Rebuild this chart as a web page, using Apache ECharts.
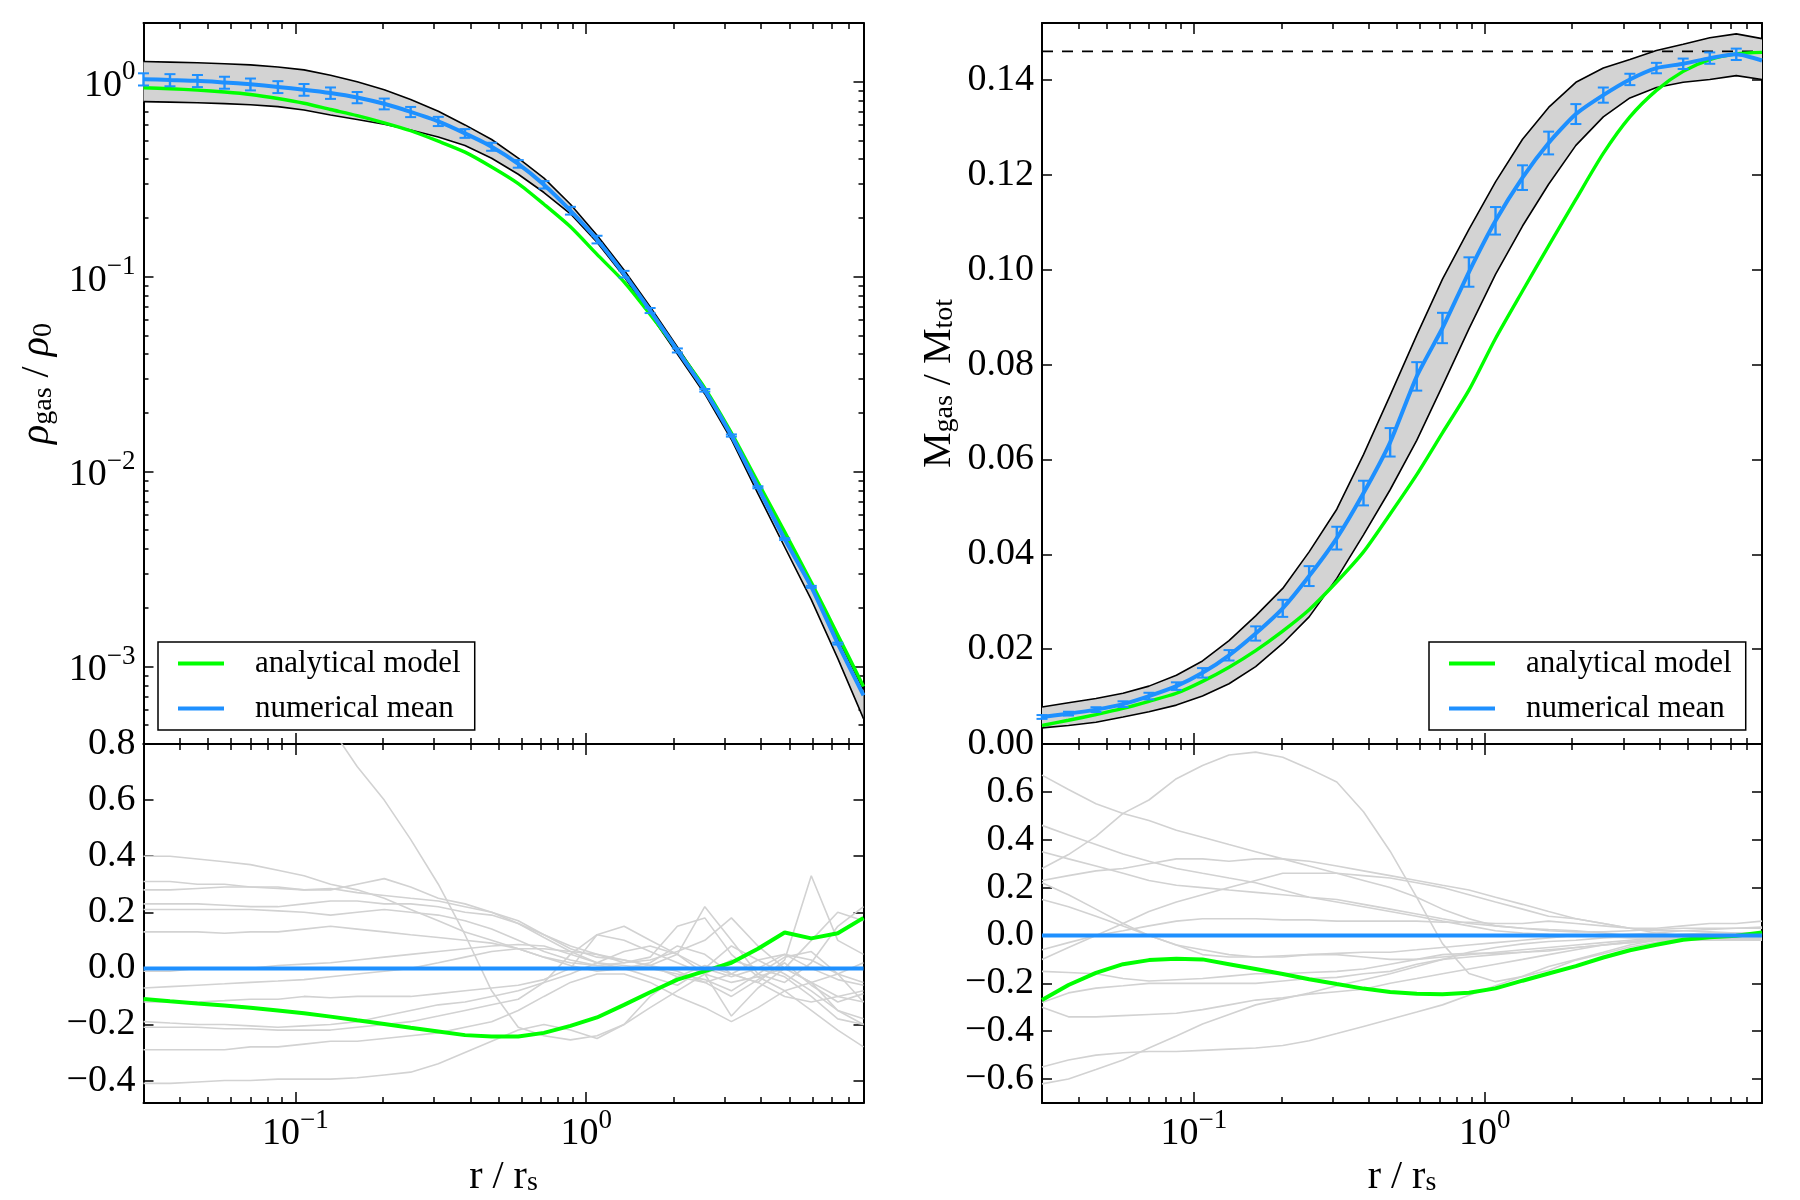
<!DOCTYPE html>
<html>
<head>
<meta charset="utf-8">
<title>Gas density and gas mass fraction profiles</title>
<script src="https://cdn.jsdelivr.net/npm/echarts@6/dist/echarts.min.js"></script>
<style>
  html, body { margin: 0; padding: 0; background: #fff; }
  #main { width: 1800px; height: 1200px; }
</style>
</head>
<body>
<div id="main"></div>
<script>
// r / r_s sample points (error bars sit on all but the last one)
const R = [0.03, 0.037, 0.046, 0.057, 0.07, 0.087, 0.107, 0.132, 0.163, 0.202, 0.249, 0.31, 0.383, 0.473,
  0.584, 0.716, 0.883, 1.09, 1.35, 1.66, 2.06, 2.56, 3.16, 3.9, 4.82, 5.95, 7.34, 9.0];
const X_MIN = 0.03, X_MAX = 9;

// top left: rho_gas / rho_0
const RHO_MODEL = [0.93, 0.92, 0.905, 0.885, 0.86, 0.82, 0.775, 0.72, 0.67, 0.615, 0.56, 0.495, 0.435, 0.365,
  0.30, 0.235, 0.18, 0.13, 0.094, 0.064, 0.042, 0.0268, 0.0158, 0.0088, 0.0049, 0.0027, 0.00145, 0.00079];
const RHO_MEAN = [1.03, 1.02, 1.01, 0.99, 0.97, 0.94, 0.91, 0.875, 0.83, 0.77, 0.70, 0.626, 0.543, 0.464,
  0.379, 0.296, 0.218, 0.155, 0.103, 0.067, 0.0418, 0.0261, 0.0153, 0.0083, 0.0045, 0.00256, 0.00131, 0.00071];
const RHO_ERR = [0.074, 0.073, 0.072, 0.070, 0.068, 0.066, 0.063, 0.059, 0.055, 0.049, 0.042, 0.034, 0.028, 0.022,
  0.017, 0.013, 0.010, 0.007, 0.004, 0.002, 0.001, 0.0004, 0.0002, 0.0001, 0.00005, 0.00003, 0.000015];
const RHO_HI = [1.27, 1.26, 1.25, 1.235, 1.22, 1.19, 1.15, 1.08, 1.0, 0.91, 0.81, 0.705, 0.60, 0.505,
  0.405, 0.32, 0.235, 0.163, 0.108, 0.07, 0.0435, 0.027, 0.0158, 0.0087, 0.0048, 0.0027, 0.0014, 0.00076];
const RHO_LO = [0.79, 0.785, 0.78, 0.772, 0.762, 0.745, 0.715, 0.675, 0.64, 0.605, 0.565, 0.52, 0.47, 0.405,
  0.335, 0.27, 0.21, 0.150, 0.100, 0.064, 0.040, 0.025, 0.0146, 0.0077, 0.0041, 0.0022, 0.0011, 0.00054];

// top right: M_gas / M_tot
const MGAS_MODEL = [0.0039, 0.0050, 0.0062, 0.0075, 0.0090, 0.0107, 0.0132, 0.0162, 0.0197, 0.0238, 0.0283, 0.0342, 0.0405, 0.0485,
  0.0568, 0.0656, 0.0746, 0.0855, 0.0955, 0.105, 0.1148, 0.1245, 0.1322, 0.1378, 0.1418, 0.1443, 0.1455, 0.1458];
const MGAS_MEAN = [0.0057, 0.0064, 0.00725, 0.0084, 0.0101, 0.0122, 0.0150, 0.0187, 0.0233, 0.0286, 0.0354, 0.0434, 0.0529, 0.0636,
  0.0775, 0.0877, 0.0995, 0.1103, 0.1194, 0.1267, 0.1328, 0.1368, 0.1401, 0.1425, 0.1434, 0.1446, 0.1454, 0.1441];
const MGAS_ERR = [0.0004, 0.0004, 0.0005, 0.0006, 0.0007, 0.0008, 0.001, 0.0011, 0.0015, 0.0018, 0.0021, 0.0024, 0.0026, 0.003,
  0.003, 0.0032, 0.0031, 0.0029, 0.0026, 0.0024, 0.0021, 0.0016, 0.0012, 0.0011, 0.0011, 0.0012, 0.0012];
const MGAS_HI = [0.0078, 0.0087, 0.0096, 0.0107, 0.0122, 0.0145, 0.0175, 0.0218, 0.027, 0.0328, 0.0405, 0.0495, 0.061, 0.0735,
  0.0862, 0.0980, 0.1085, 0.1185, 0.1275, 0.1342, 0.1395, 0.1425, 0.1443, 0.1462, 0.1475, 0.1489, 0.1497, 0.1487];
const MGAS_LO = [0.0034, 0.0039, 0.0046, 0.0057, 0.0068, 0.0082, 0.0101, 0.0127, 0.0163, 0.0212, 0.0268, 0.0349, 0.0441, 0.0536,
  0.0640, 0.0755, 0.0875, 0.0990, 0.1092, 0.1180, 0.1262, 0.1322, 0.1362, 0.1384, 0.1395, 0.1401, 0.1409, 0.1401];
const F_BARYON = 0.146;

// bottom panels: relative deviation from the numerical mean
const RES_MEAN_X = [0.03, 9];
const RES_MEAN = [0, 0];
const RHO_RES_MODEL = [-0.109, -0.117, -0.125, -0.132, -0.14, -0.15, -0.16, -0.172, -0.185, -0.198, -0.212, -0.225, -0.238, -0.243,
  -0.243, -0.23, -0.205, -0.175, -0.13, -0.085, -0.04, -0.01, 0.02, 0.07, 0.128, 0.107, 0.125, 0.18];
const MGAS_RES_MODEL = [-0.27, -0.207, -0.156, -0.12, -0.103, -0.097, -0.1, -0.12, -0.14, -0.161, -0.183, -0.203, -0.222, -0.236,
  -0.244, -0.246, -0.239, -0.221, -0.189, -0.159, -0.128, -0.092, -0.062, -0.039, -0.018, -0.007, -0.001, 0.012];

// single haloes
const RHO_RES_HALOS = [
  [0.40, 0.40, 0.39, 0.38, 0.37, 0.35, 0.33, 0.30, 0.28, 0.25, 0.21, 0.17, 0.13, 0.10, 0.07, 0.04, 0.02, 0.01, 0.00, 0.01, -0.03, -0.05, -0.02, 0.03, 0.05, 0.00, -0.04, -0.06],
  [0.31, 0.31, 0.30, 0.30, 0.29, 0.29, 0.28, 0.28, 0.30, 0.32, 0.29, 0.25, 0.23, 0.20, 0.17, 0.12, 0.08, 0.05, 0.02, 0.03, 0.06, 0.10, 0.18, 0.08, 0.00, -0.05, -0.10, -0.12],
  [0.28, 0.28, 0.285, 0.29, 0.29, 0.285, 0.28, 0.285, 0.27, 0.26, 0.25, 0.24, 0.22, 0.20, 0.16, 0.11, 0.06, 0.02, 0.00, -0.03, -0.06, 0.00, 0.08, 0.03, -0.02, -0.08, -0.15, -0.18],
  [0.23, 0.23, 0.23, 0.225, 0.22, 0.22, 0.23, 0.24, 0.24, 0.23, 0.23, 0.22, 0.20, 0.19, 0.16, 0.12, 0.07, 0.04, 0.03, 0.01, 0.05, 0.22, 0.10, -0.02, -0.05, 0.02, 0.15, 0.22],
  [0.21, 0.21, 0.21, 0.21, 0.21, 0.205, 0.20, 0.19, 0.20, 0.21, 0.20, 0.19, 0.17, 0.14, 0.10, 0.06, 0.03, 0.01, 0.02, 0.04, 0.15, 0.18, 0.05, -0.03, 0.00, 0.10, 0.20, 0.17],
  [0.13, 0.13, 0.13, 0.125, 0.13, 0.13, 0.14, 0.15, 0.14, 0.13, 0.12, 0.11, 0.10, 0.09, 0.07, 0.04, 0.01, -0.01, 0.00, 0.02, 0.08, 0.05, -0.02, -0.05, 0.03, 0.33, 0.10, 0.05],
  [-0.01, -0.01, 0.0, 0.0, 0.0, 0.01, 0.015, 0.02, 0.03, 0.04, 0.05, 0.06, 0.07, 0.08, 0.085, 0.08, 0.05, 0.02, 0.01, 0.0, -0.02, -0.04, -0.08, -0.02, 0.04, 0.06, -0.02, -0.12],
  [-0.07, -0.065, -0.06, -0.055, -0.05, -0.045, -0.04, -0.03, -0.02, -0.01, 0.0, 0.02, 0.04, 0.06, 0.07, 0.07, 0.06, 0.05, 0.03, 0.01, -0.01, -0.05, -0.10, -0.04, 0.02, -0.06, -0.12, -0.09],
  [-0.12, -0.12, -0.12, -0.115, -0.11, -0.11, -0.10, -0.105, -0.10, -0.10, -0.10, -0.09, -0.08, -0.07, -0.06, -0.04, 0.0, 0.12, 0.15, 0.10, 0.05, 0.0, -0.03, 0.0, 0.05, 0.03, -0.02, -0.05],
  [-0.19, -0.195, -0.20, -0.20, -0.205, -0.21, -0.205, -0.20, -0.19, -0.17, -0.15, -0.13, -0.12, -0.10, -0.08, -0.05, -0.02, 0.02, 0.06, 0.08, 0.05, -0.02, -0.17, -0.07, 0.0, -0.05, -0.15, -0.20],
  [-0.21, -0.21, -0.21, -0.215, -0.215, -0.22, -0.22, -0.22, -0.21, -0.20, -0.19, -0.17, -0.15, -0.13, -0.11, -0.05, 0.05, 0.12, 0.10, 0.06, 0.02, -0.02, -0.05, -0.03, -0.08, -0.15, -0.22, -0.28],
  [-0.29, -0.29, -0.29, -0.29, -0.28, -0.28, -0.27, -0.26, -0.26, -0.25, -0.24, -0.23, -0.21, -0.19, -0.15, -0.10, -0.05, -0.02, -0.02, -0.05, -0.10, -0.14, -0.19, -0.14, -0.08, -0.05, -0.02, 0.02],
  [-0.41, -0.41, -0.405, -0.40, -0.40, -0.395, -0.395, -0.395, -0.39, -0.38, -0.37, -0.34, -0.30, -0.26, -0.22, -0.20, -0.22, -0.25, -0.20, -0.10, -0.03, 0.01, -0.02, -0.05, -0.10, -0.12, -0.10, -0.08],
  [1.6, 1.5, 1.4, 1.3, 1.2, 1.1, 0.98, 0.86, 0.72, 0.60, 0.46, 0.30, 0.12, -0.08, -0.21, -0.24, -0.255, -0.24, -0.20, -0.14, -0.08, -0.02, 0.03, 0.0, -0.03, -0.10, -0.18, -0.20]
];
const MGAS_RES_HALOS = [
  [0.67, 0.61, 0.55, 0.51, 0.48, 0.44, 0.41, 0.38, 0.35, 0.32, 0.29, 0.26, 0.23, 0.20, 0.16, 0.11, 0.07, 0.04, 0.03, 0.02, 0.015, 0.015, 0.02, 0.025, 0.03, 0.03, 0.03, 0.035],
  [0.46, 0.42, 0.38, 0.34, 0.31, 0.28, 0.26, 0.24, 0.22, 0.19, 0.16, 0.14, 0.12, 0.10, 0.08, 0.06, 0.04, 0.02, 0.01, 0.005, 0.0, -0.005, -0.01, -0.01, -0.005, 0.0, 0.0, 0.005],
  [0.28, 0.338, 0.414, 0.51, 0.566, 0.655, 0.71, 0.754, 0.766, 0.745, 0.697, 0.641, 0.517, 0.352, 0.159, -0.034, -0.159, -0.193, -0.172, -0.145, -0.103, -0.076, -0.048, -0.028, -0.02, -0.015, -0.015, -0.01],
  [0.23, 0.25, 0.27, 0.28, 0.30, 0.32, 0.32, 0.31, 0.32, 0.32, 0.31, 0.29, 0.27, 0.25, 0.23, 0.21, 0.19, 0.16, 0.13, 0.10, 0.07, 0.05, 0.03, 0.02, 0.02, 0.015, 0.01, 0.01],
  [0.35, 0.32, 0.29, 0.26, 0.23, 0.21, 0.20, 0.19, 0.18, 0.17, 0.16, 0.15, 0.13, 0.11, 0.09, 0.07, 0.05, 0.04, 0.03, 0.025, 0.02, 0.01, 0.0, -0.01, -0.01, -0.005, 0.0, 0.0],
  [0.15, 0.12, 0.08, 0.04, 0.0, -0.04, -0.06, -0.08, -0.09, -0.09, -0.08, -0.08, -0.09, -0.10, -0.10, -0.09, -0.08, -0.07, -0.06, -0.05, -0.04, -0.03, -0.02, -0.01, -0.01, -0.01, -0.02, -0.02],
  [-0.06, -0.03, 0.0, 0.02, 0.04, 0.06, 0.07, 0.07, 0.07, 0.065, 0.065, 0.06, 0.06, 0.06, 0.06, 0.055, 0.055, 0.05, 0.05, 0.06, 0.05, 0.04, 0.03, 0.03, 0.04, 0.05, 0.05, 0.06],
  [-0.10, -0.05, 0.0, 0.05, 0.10, 0.14, 0.17, 0.20, 0.23, 0.26, 0.26, 0.26, 0.25, 0.24, 0.22, 0.20, 0.17, 0.14, 0.11, 0.08, 0.07, 0.05, 0.03, 0.01, 0.0, -0.01, -0.01, -0.01],
  [-0.15, -0.155, -0.16, -0.18, -0.19, -0.185, -0.18, -0.17, -0.16, -0.16, -0.155, -0.15, -0.14, -0.12, -0.10, -0.08, -0.075, -0.075, -0.07, -0.065, -0.05, -0.04, -0.03, -0.02, -0.02, -0.02, -0.02, -0.02],
  [-0.28, -0.24, -0.22, -0.21, -0.20, -0.20, -0.20, -0.20, -0.20, -0.19, -0.18, -0.175, -0.16, -0.15, -0.12, -0.10, -0.09, -0.08, -0.07, -0.06, -0.05, -0.04, -0.03, -0.02, -0.01, -0.01, -0.01, -0.005],
  [-0.30, -0.34, -0.34, -0.335, -0.33, -0.325, -0.31, -0.29, -0.27, -0.26, -0.245, -0.235, -0.225, -0.2, -0.18, -0.16, -0.14, -0.12, -0.1, -0.08, -0.06, -0.04, -0.025, -0.015, -0.01, -0.01, -0.015, -0.015],
  [-0.55, -0.52, -0.50, -0.49, -0.485, -0.485, -0.48, -0.475, -0.47, -0.46, -0.44, -0.41, -0.38, -0.35, -0.32, -0.29, -0.25, -0.21, -0.17, -0.13, -0.10, -0.07, -0.04, -0.02, -0.01, 0.0, -0.01, -0.02],
  [-0.62, -0.60, -0.56, -0.52, -0.47, -0.42, -0.37, -0.33, -0.29, -0.265, -0.24, -0.21, -0.185, -0.16, -0.13, -0.10, -0.07, -0.05, -0.035, -0.025, -0.02, -0.01, -0.005, 0.0, 0.005, 0.01, 0.01, 0.01],
  [0.22, 0.17, 0.11, 0.05, 0.0, -0.04, -0.08, -0.09, -0.09, -0.085, -0.08, -0.075, -0.07, -0.07, -0.06, -0.05, -0.04, -0.03, -0.02, -0.01, 0.0, 0.0, 0.005, 0.01, 0.02, 0.025, 0.03, 0.03]
];

// ticks
const X_MAJOR = [0.1, 1];
const X_MINOR = [0.04, 0.05, 0.06, 0.07, 0.08, 0.09, 0.2, 0.3, 0.4, 0.5, 0.6, 0.7, 0.8, 0.9, 2, 3, 4, 5, 6, 7, 8, 9];
const RHO_TICKS = [0.001, 0.01, 0.1, 1];
const RHO_MINOR = [0.0005, 0.0006, 0.0007, 0.0008, 0.0009, 0.002, 0.003, 0.004, 0.005, 0.006, 0.007, 0.008, 0.009,
  0.02, 0.03, 0.04, 0.05, 0.06, 0.07, 0.08, 0.09, 0.2, 0.3, 0.4, 0.5, 0.6, 0.7, 0.8, 0.9, 2];
const MGAS_TICKS = [0, 0.02, 0.04, 0.06, 0.08, 0.10, 0.12, 0.14];
const RHO_RES_TICKS = [-0.4, -0.2, 0, 0.2, 0.4, 0.6, 0.8];
const MGAS_RES_TICKS = [-0.6, -0.4, -0.2, 0, 0.2, 0.4, 0.6];

const FONT = '"Liberation Serif", "DejaVu Serif", serif';
const BLUE = '#1e90ff', GREEN = '#00ff00', BAND = '#d3d3d3', HALO = '#d2d2d2';

const RICH_TICK = {
  b: { fontFamily: FONT, fontSize: 38, lineHeight: 46, verticalAlign: 'bottom', color: '#000' },
  s: { fontFamily: FONT, fontSize: 27, lineHeight: 27, verticalAlign: 'top', color: '#000' }
};
const RICH_NAME = {
  m: { fontFamily: FONT, fontSize: 40, lineHeight: 50, verticalAlign: 'bottom', color: '#000' },
  i: { fontFamily: FONT, fontSize: 40, lineHeight: 50, verticalAlign: 'bottom', fontStyle: 'italic', color: '#000' },
  s: { fontFamily: FONT, fontSize: 28, lineHeight: 30, verticalAlign: 'bottom', color: '#000' }
};

function powLabel(v) {
  const e = Math.round(Math.log10(v));
  return '{b|10}{s|' + (e < 0 ? '\u2212' + (-e) : e) + '}';
}
function signed(d) {
  return v => (v < -1e-9 ? '\u2212' : '') + Math.abs(v).toFixed(d);
}

const AXIS_LINE = { show: true, onZero: false, lineStyle: { color: '#000', width: 2 } };
const NO_LINE = { show: false, onZero: false };
function ticks(vals, len) {
  return { show: true, inside: true, length: len, customValues: vals, lineStyle: { color: '#000', width: 1.5 } };
}

function xAxesFor(grid, withLabels) {
  const base = { type: 'log', logBase: 10, min: X_MIN, max: X_MAX, gridIndex: grid, splitLine: { show: false } };
  const list = [
    Object.assign({}, base, { position: 'bottom', axisLine: AXIS_LINE, axisTick: ticks(X_MAJOR, 11),
      axisLabel: withLabels ? { show: true, customValues: X_MAJOR, formatter: powLabel, margin: 4, rich: RICH_TICK } : { show: false } }),
    Object.assign({}, base, { position: 'bottom', axisLine: NO_LINE, axisTick: ticks(X_MINOR, 6), axisLabel: { show: false } }),
    Object.assign({}, base, { position: 'top', axisLine: AXIS_LINE, axisTick: ticks(X_MAJOR, 11), axisLabel: { show: false } }),
    Object.assign({}, base, { position: 'top', axisLine: NO_LINE, axisTick: ticks(X_MINOR, 6), axisLabel: { show: false } })
  ];
  if (withLabels) {
    Object.assign(list[0], { name: '{m|r / r}{s|s}', nameLocation: 'middle', nameGap: 44,
      nameTextStyle: { fontFamily: FONT, fontSize: 40, color: '#000', rich: RICH_NAME } });
  }
  return list;
}

function yAxesFor(grid, o) {
  const base = { type: o.log ? 'log' : 'value', min: o.min, max: o.max, gridIndex: grid, splitLine: { show: false } };
  if (o.log) base.logBase = 10;
  const left = Object.assign({}, base, { position: 'left', axisLine: AXIS_LINE, axisTick: ticks(o.ticks, 10),
    axisLabel: { show: true, customValues: o.labels, formatter: o.fmt, margin: 8, fontFamily: FONT, fontSize: 38, color: '#000', rich: RICH_TICK } });
  if (o.name) {
    Object.assign(left, { name: o.name, nameLocation: 'middle', nameGap: o.nameGap, nameRotate: 90,
      nameTextStyle: { fontFamily: FONT, fontSize: 40, color: '#000', rich: RICH_NAME } });
  }
  const list = [left, Object.assign({}, base, { position: 'right', axisLine: AXIS_LINE, axisTick: ticks(o.ticks, 10), axisLabel: { show: false } })];
  if (o.minor) {
    list.push(Object.assign({}, base, { position: 'left', axisLine: NO_LINE, axisTick: ticks(o.minor, 5), axisLabel: { show: false } }));
    list.push(Object.assign({}, base, { position: 'right', axisLine: NO_LINE, axisTick: ticks(o.minor, 5), axisLabel: { show: false } }));
  }
  return list;
}

const xAxis = [].concat(xAxesFor(0, false), xAxesFor(1, true), xAxesFor(2, false), xAxesFor(3, true));
const yTL = yAxesFor(0, { log: true, min: 0.0004, max: 2, ticks: RHO_TICKS, labels: RHO_TICKS, minor: RHO_MINOR,
  fmt: powLabel, name: '{i|ρ}{s|gas}{m| / }{i|ρ}{s|0}', nameGap: 86 });
const yBL = yAxesFor(1, { min: -0.48, max: 0.8, ticks: RHO_RES_TICKS, labels: RHO_RES_TICKS, fmt: signed(1) });
const yTR = yAxesFor(2, { min: 0, max: 0.152, ticks: MGAS_TICKS, labels: MGAS_TICKS, fmt: signed(2),
  name: '{m|M}{s|gas}{m| / M}{s|tot}', nameGap: 83 });
const yBR = yAxesFor(3, { min: -0.7, max: 0.8, ticks: MGAS_RES_TICKS, labels: MGAS_RES_TICKS, fmt: signed(1) });
const yAxis = [].concat(yTL, yBL, yTR, yBR);
const Y_TL = 0, Y_BL = yTL.length, Y_TR = Y_BL + yBL.length, Y_BR = Y_TR + yTR.length;

function pairs(xs, ys) { return ys.map((y, i) => [xs[i], y]); }

function line(name, ys, color, width, xi, yi, z, opts) {
  opts = opts || {};
  return {
    type: 'line', name, xAxisIndex: xi, yAxisIndex: yi, data: pairs(opts.xs || R, ys),
    showSymbol: false, symbol: 'none', smooth: opts.smooth || false, clip: true, z, silent: true,
    color, itemStyle: { color }, lineStyle: { color, width, type: opts.dash || 'solid' }
  };
}

function band(lo, hi, xi, yi) {
  return {
    type: 'custom', xAxisIndex: xi, yAxisIndex: yi, z: 1, silent: true,
    data: R.map((r, i) => [r, lo[i], hi[i]]),
    encode: { x: 0, y: [1, 2] },
    renderItem(params, api) {
      if (params.dataIndexInside !== 0) return;
      const n = params.dataInsideLength, top = [], bottom = [];
      for (let j = 0; j < n; j++) {
        const x = api.value(0, j);
        top.push(api.coord([x, api.value(2, j)]));
        bottom.push(api.coord([x, api.value(1, j)]));
      }
      return { type: 'polygon', shape: { points: top.concat(bottom.reverse()) }, style: { fill: BAND } };
    }
  };
}

function errorBars(mean, err, xi, yi) {
  return {
    type: 'custom', xAxisIndex: xi, yAxisIndex: yi, z: 5, silent: true,
    data: err.map((e, i) => [R[i], mean[i], e]),
    encode: { x: 0, y: 1 },
    renderItem(params, api) {
      const x = api.value(0), y = api.value(1), e = api.value(2);
      const a = api.coord([x, y + e]), b = api.coord([x, y - e]);
      const cap = 5.5, style = { stroke: BLUE, lineWidth: 2.4 };
      return { type: 'group', children: [
        { type: 'line', shape: { x1: a[0], y1: a[1], x2: b[0], y2: b[1] }, style },
        { type: 'line', shape: { x1: a[0] - cap, y1: a[1], x2: a[0] + cap, y2: a[1] }, style: { stroke: BLUE, lineWidth: 2 } },
        { type: 'line', shape: { x1: b[0] - cap, y1: b[1], x2: b[0] + cap, y2: b[1] }, style: { stroke: BLUE, lineWidth: 2 } }
      ] };
    }
  };
}

function topPanel(xi, yi, lo, hi, model, mean, err) {
  return [
    band(lo, hi, xi, yi),
    line('upper', hi, '#000', 1.6, xi, yi, 2),
    line('lower', lo, '#000', 1.6, xi, yi, 2),
    line('analytical model', model, GREEN, 3.4, xi, yi, 3, { smooth: 0.25 }),
    line('numerical mean', mean, BLUE, 4, xi, yi, 4, { smooth: 0.2 }),
    errorBars(mean, err, xi, yi)
  ];
}

function resPanel(xi, yi, halos, model) {
  return halos.map((h, k) => line('halo ' + (k + 1), h, HALO, 1.6, xi, yi, 1))
    .concat([
      line('numerical mean', RES_MEAN, BLUE, 4, xi, yi, 4, { xs: RES_MEAN_X }),
      line('analytical model', model, GREEN, 4, xi, yi, 3)
    ]);
}

const series = [].concat(
  topPanel(0, Y_TL, RHO_LO, RHO_HI, RHO_MODEL, RHO_MEAN, RHO_ERR),
  resPanel(4, Y_BL, RHO_RES_HALOS, RHO_RES_MODEL),
  topPanel(8, Y_TR, MGAS_LO, MGAS_HI, MGAS_MODEL, MGAS_MEAN, MGAS_ERR),
  [line('baryon fraction', [F_BARYON, F_BARYON], '#000', 1.8, 8, Y_TR, 2, { xs: RES_MEAN_X, dash: [11, 9] })],
  resPanel(12, Y_BR, MGAS_RES_HALOS, MGAS_RES_MODEL)
);

function legendAt(left) {
  return {
    orient: 'vertical', left, top: 642, data: ['analytical model', 'numerical mean'],
    icon: 'rect', itemWidth: 46, itemHeight: 4, itemGap: 14, padding: [6, 14, 6, 20],
    borderColor: '#000', borderWidth: 1.5, borderRadius: 0, backgroundColor: '#fff',
    selectedMode: false, z: 10,
    textStyle: { fontFamily: FONT, fontSize: 31, lineHeight: 31, color: '#000', padding: [0, 0, 0, 26] }
  };
}

const chart = echarts.init(document.getElementById('main'), null, { renderer: 'canvas' });
chart.setOption({
  animation: false,
  backgroundColor: '#fff',
  textStyle: { fontFamily: FONT },
  grid: [
    { left: 143.5, top: 23, width: 720, height: 721, containLabel: false, outerBoundsMode: 'none' },
    { left: 143.5, top: 744, width: 720, height: 359, containLabel: false, outerBoundsMode: 'none' },
    { left: 1042, top: 23, width: 720, height: 721, containLabel: false, outerBoundsMode: 'none' },
    { left: 1042, top: 744, width: 720, height: 359, containLabel: false, outerBoundsMode: 'none' }
  ],
  legend: [legendAt(158), legendAt(1429)],
  xAxis,
  yAxis,
  series
});
</script>
</body>
</html>
